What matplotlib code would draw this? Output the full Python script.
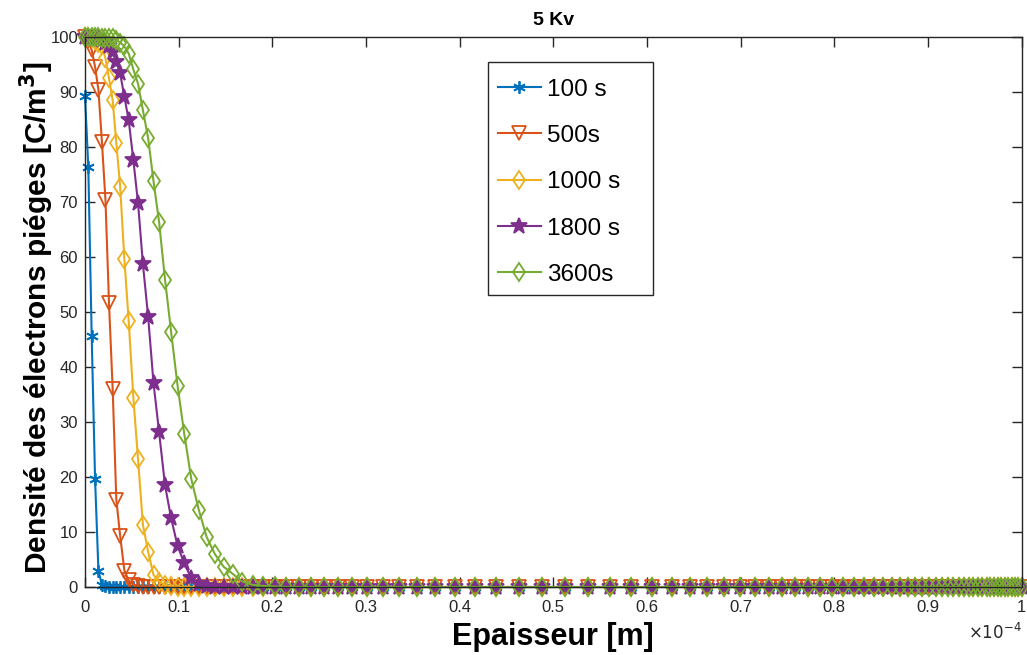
import numpy as np
import matplotlib.pyplot as plt
from matplotlib.patches import Rectangle

plt.rcParams['font.family'] = ['Liberation Sans', 'DejaVu Sans']

# thickness grid, in units of 1e-4 m (symmetric mesh)
x_left = [0.0000, 0.0035, 0.0071, 0.0107, 0.0143, 0.0180, 0.0218, 0.0256, 0.0295,
          0.0334, 0.0375, 0.0420, 0.0466, 0.0516, 0.0566, 0.0618, 0.0674, 0.0731,
          0.0791, 0.0854, 0.0919, 0.0988, 0.1059, 0.1135, 0.1215, 0.1298, 0.1386,
          0.1479, 0.1576, 0.1679, 0.1788, 0.1904, 0.2024, 0.2150, 0.2281, 0.2417,
          0.2556, 0.2698, 0.2847, 0.3007, 0.3178, 0.3355, 0.3541, 0.3737, 0.3950,
          0.4166, 0.4391, 0.4631, 0.4876]
x_right = [0.5124, 0.5369, 0.5609, 0.5834, 0.6050, 0.6263, 0.6459, 0.6645, 0.6822,
           0.6993, 0.7153, 0.7302, 0.7444, 0.7583, 0.7719, 0.7850, 0.7976, 0.8097,
           0.8212, 0.8321, 0.8424, 0.8521, 0.8614, 0.8702, 0.8785, 0.8865, 0.8941,
           0.9013, 0.9081, 0.9146, 0.9209, 0.9269, 0.9326, 0.9382, 0.9434, 0.9484,
           0.9535, 0.9580, 0.9625, 0.9666, 0.9705, 0.9744, 0.9782, 0.9820, 0.9857,
           0.9893, 0.9930, 0.9965, 1.0000]
x = np.array(x_left + x_right)
n = len(x)

# trapped electron density, non-zero head of each profile (the rest is 0)
y_100 = [89.2, 76.3, 45.6, 19.7, 3.0, 0.4, 0.1]
y_500 = [100.0, 99.3, 97.6, 94.6, 90.4, 81.0, 70.4, 51.6, 36.0, 15.9, 9.3, 3.0,
         1.2, 0.4, 0.1]
y_1000 = [100.0, 100.0, 99.8, 99.5, 99.0, 98.5, 96.1, 92.5, 88.5, 80.7, 72.8,
          59.6, 48.4, 34.4, 23.2, 11.3, 6.4, 2.2, 1.0, 0.4, 0.15]
y_1800 = [100.0, 100.0, 100.0, 99.9, 99.8, 99.5, 99.0, 98.3, 97.3, 95.5, 93.4,
          89.1, 84.9, 77.6, 69.8, 58.7, 49.1, 37.1, 28.1, 18.5, 12.5, 7.5, 4.3,
          1.6, 0.5, 0.15]
y_3600 = [100.0, 100.0, 100.0, 100.0, 100.0, 99.9, 99.9, 99.8, 99.8, 99.5, 99.0,
          98.3, 97.0, 94.1, 91.5, 86.7, 81.6, 73.8, 66.3, 55.9, 46.4, 36.6, 27.9,
          19.6, 14.0, 9.1, 6.0, 3.7, 2.4, 1.0, 0.4, 0.2, 0.1]

labels = ['100 s', '500s', '1000 s', '1800 s', '3600s']
series = [y_100, y_500, y_1000, y_1800, y_3600]
colors = ['#0072BD', '#D95319', '#EDB120', '#7E2F8E', '#77AC30']
markers = [(6, 2, 0), 'v', 'd', '*', 'd']
msizes = [9, 10, 9.5, 12, 9.5]
fills = [None, 'none', 'none', None, 'none']

fig = plt.figure(figsize=(10.27, 6.55), dpi=100)
ax = fig.add_axes([0.0828, 0.1038, 0.9120, 0.8397])

for y, lab, c, m, ms, f in zip(series, labels, colors, markers, msizes, fills):
    yy = np.concatenate([y, np.zeros(n - len(y))])
    kw = dict(color=c, marker=m, markersize=ms, linewidth=1.5, markeredgewidth=1.3,
              label=lab, clip_on=False)
    if f == 'none':
        kw['markerfacecolor'] = 'none'
    ax.plot(x, yy, **kw)

ax.set_xlim(0, 1)
ax.set_ylim(0, 100)
ax.set_xticks(np.arange(0, 1.01, 0.1))
ax.set_xticklabels(['%g' % v for v in np.round(np.arange(0, 1.01, 0.1), 1)])
ax.set_yticks(np.arange(0, 101, 10))
ax.tick_params(direction='in', length=7, width=1, top=True, right=True,
               labelsize=12, colors='#262626')
ax.tick_params(axis='x', pad=9)
ax.tick_params(axis='y', pad=5)
for s in ax.spines.values():
    s.set_color('#262626')
    s.set_linewidth(1)

ax.text(1.0, -0.082, r'$\times10^{-4}$', transform=ax.transAxes, ha='right',
        va='center', fontsize=12, color='#262626')

ax.set_title('5 Kv', fontsize=14, fontweight='bold', pad=9)
ax.set_xlabel('Epaisseur [m]', fontsize=22, fontweight='bold')
ax.set_ylabel('Densité des électrons piéges [C/m$\\mathbf{^3}$]', fontsize=21.5,
              fontweight='bold')
ax.xaxis.set_label_coords(0.5, -0.063)
ax.yaxis.set_label_coords(-0.031, 0.49)

# legend box drawn separately (MATLAB style, wide right margin)
box = Rectangle((488 / 1027, 1 - 295 / 655), 165 / 1027, 233 / 655,
                transform=fig.transFigure, facecolor='white',
                edgecolor='#262626', linewidth=1, zorder=4.5, clip_on=False)
ax.add_artist(box)
leg = ax.legend(loc='upper left', bbox_to_anchor=(0.4849, 0.8801),
                bbox_transform=fig.transFigure, fontsize=17.5, frameon=False,
                handlelength=1.75, labelspacing=1.0, borderpad=0,
                handletextpad=0.25, borderaxespad=0)
leg.set_zorder(6)

fig.savefig('out.png', dpi=100)
